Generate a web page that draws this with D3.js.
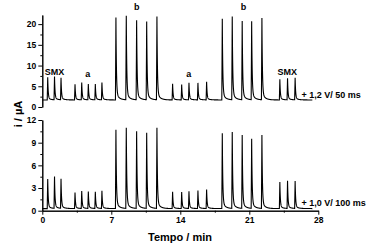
<!DOCTYPE html>
<html>
<head>
<meta charset="utf-8">
<script src="https://cdn.jsdelivr.net/npm/d3@7"></script>
<style>
  body { margin: 0; background: #fff; }
  text { font-family: "Liberation Sans", Arial, sans-serif; font-weight: bold; fill: #000; }
</style>
</head>
<body>
<div id="graph"></div>
<script>
// peak apex times (min), same injection sequence in both traces
var peakTimes = [0.55, 1.24, 1.9, 3.32, 4.0, 4.67, 5.38, 6.05, 7.47, 8.52, 9.57, 10.59, 11.63,
  13.22, 14.14, 14.88, 15.79, 16.67, 18.26, 19.27, 20.28, 21.24, 22.28, 24.1, 24.88, 25.65]

// peak heights (µA)
var topHeights = [7.2, 7.3, 7.0, 5.5, 5.9, 5.5, 5.5, 5.9, 21.6, 22.0, 20.9, 20.6, 21.8,
  5.6, 5.4, 5.8, 5.8, 6.1, 21.3, 21.8, 20.7, 20.6, 21.4, 6.7, 6.9, 7.0]
var botHeights = [4.2, 4.5, 4.2, 2.4, 2.6, 2.5, 2.5, 2.6, 10.7, 10.95, 10.5, 10.3, 10.95,
  2.5, 2.45, 2.55, 2.65, 2.8, 10.25, 10.4, 10.0, 9.5, 10.0, 3.8, 3.95, 3.9]

var topBase = 1.7
var botBase = 0.28
var traceEnd = 27.4

var xTicks = [0, 7, 14, 21, 28]
var topTicks = [0, 5, 10, 15, 20]
var botTicks = [0, 3, 6, 9, 12]

var groupLabels = [
  {text: 'SMX', t: 1.25, v: 7.7},
  {text: 'a', t: 4.6, v: 7.2},
  {text: 'b', t: 9.57, v: 23.3},
  {text: 'a', t: 14.85, v: 7.2},
  {text: 'b', t: 20.4, v: 23.3},
  {text: 'SMX', t: 24.85, v: 7.7},
]

var width = 374, height = 246

var svg = d3.select('#graph').append('svg')
  .attr('width', width).attr('height', height)

var x = d3.scaleLinear().domain([0, 28]).range([42.3, 318.3])
var yTop = d3.scaleLinear().domain([0, 22.2]).range([107, 15])
var yBot = d3.scaleLinear().domain([0, 12]).range([210.7, 120])

// sharp rise, fast decay plus a small slow tail
function signal(t, heights, base){
  var s = base
  peakTimes.forEach((t0, i) => {
    var amp = heights[i] - base
    var dt = t - t0
    if (dt < -0.05) return
    if (dt < 0) s += amp*(1 + dt/0.05)
    else s += amp*(0.92*Math.exp(-dt/0.05) + 0.08*Math.exp(-dt/0.3))
  })
  return s
}

function trace(heights, base){
  var times = d3.range(0, traceEnd, 0.005)
  peakTimes.forEach(t0 => times.push(t0, t0 - 0.05))
  times.sort(d3.ascending)
  return times.map(t => [t, signal(t, heights, base)])
}

function drawPanel(y, heights, base, ticks, minorStep){
  var line = d3.line().x(d => x(d[0])).y(d => y(d[1]))
  svg.append('path')
    .attr('d', line(trace(heights, base)))
    .attr('fill', 'none').attr('stroke', '#000').attr('stroke-width', 1.1)

  var minors = d3.range(minorStep, y.domain()[1], minorStep*2)
  svg.append('g').attr('transform', `translate(${x(0)},0)`)
    .call(d3.axisLeft(y).tickValues(minors).tickSize(2).tickSizeOuter(0).tickFormat(''))
  var ax = svg.append('g').attr('transform', `translate(${x(0)},0)`)
    .call(d3.axisLeft(y).tickValues(ticks).tickSize(4).tickSizeOuter(0).tickPadding(2))
  ax.selectAll('text').style('font-size', '8.5px')
}

drawPanel(yTop, topHeights, topBase, topTicks, 2.5)
drawPanel(yBot, botHeights, botBase, botTicks, 1.5)

// bottom x axis
svg.append('g').attr('transform', `translate(0,${yBot(0)})`)
  .call(d3.axisBottom(x).tickValues([3.5, 10.5, 17.5, 24.5]).tickSize(2).tickSizeOuter(0).tickFormat(''))
var xa = svg.append('g').attr('transform', `translate(0,${yBot(0)})`)
  .call(d3.axisBottom(x).tickValues(xTicks).tickSize(4).tickSizeOuter(0).tickPadding(2))
xa.selectAll('text').style('font-size', '8.5px')
svg.selectAll('.domain, .tick line').attr('stroke', '#000').attr('stroke-width', 1)

svg.selectAll('text.group').data(groupLabels).enter().append('text')
  .attr('x', d => x(d.t)).attr('y', d => yTop(d.v))
  .attr('text-anchor', 'middle').style('font-size', '9px')
  .text(d => d.text)

svg.append('text').attr('x', x(26.3)).attr('y', yTop(2.1))
  .style('font-size', '9px').text('+ 1,2 V/ 50 ms')
svg.append('text').attr('x', x(26.3)).attr('y', yBot(0.6))
  .style('font-size', '9px').text('+ 1,0 V/ 100 ms')

svg.append('text').attr('x', 180).attr('y', 240.5)
  .attr('text-anchor', 'middle').style('font-size', '11px').text('Tempo / min')

svg.append('text').attr('transform', 'translate(22,114) rotate(-90)')
  .attr('text-anchor', 'middle').style('font-size', '11px').text('i / µA')
</script>
</body>
</html>
